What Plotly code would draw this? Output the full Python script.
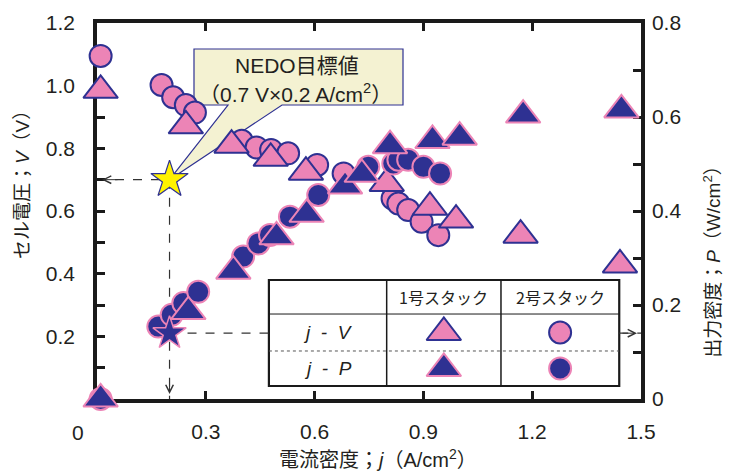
import plotly.graph_objects as go

# ---------------- data ----------------
# Stack No.2 (circles)
j2_v = [0.01, 0.178, 0.21, 0.245, 0.27, 0.399, 0.44, 0.48, 0.527, 0.607, 0.68, 0.815, 0.831, 0.858, 0.895, 0.941]
v2 = [1.095, 1.002, 0.963, 0.938, 0.914, 0.824, 0.803, 0.795, 0.784, 0.747, 0.72, 0.64, 0.624, 0.603, 0.566, 0.523]
j2_p = [0.01, 0.169, 0.206, 0.238, 0.279, 0.403, 0.445, 0.477, 0.532, 0.61, 0.748, 0.817, 0.831, 0.858, 0.9, 0.946]
p2 = [0.0, 0.154, 0.179, 0.204, 0.228, 0.303, 0.331, 0.349, 0.388, 0.434, 0.494, 0.501, 0.509, 0.509, 0.494, 0.48]

# Stack No.1 (triangles)
j1_v = [0.01, 0.245, 0.371, 0.479, 0.576, 0.799, 0.918, 0.99, 1.168, 1.442]
v1 = [0.985, 0.872, 0.81, 0.768, 0.724, 0.688, 0.612, 0.571, 0.523, 0.428]
j1_p = [0.01, 0.252, 0.376, 0.495, 0.578, 0.684, 0.73, 0.808, 0.925, 1.0, 1.175, 1.446]
p1 = [0.0, 0.186, 0.272, 0.345, 0.393, 0.453, 0.478, 0.539, 0.55, 0.557, 0.604, 0.615]

# NEDO target
NEDO_J = 0.2
NEDO_V = 0.7
NEDO_P = 0.14

# axes
X_RANGE = [0, 1.5]
Y_RANGE = [0, 1.2]
Y2_RANGE = [0, 0.8]
x_tickvals = [0, 0.3, 0.6, 0.9, 1.2, 1.5]
x_ticktext = ["", "0.3", "0.6", "0.9", "1.2", "1.5"]
y_tickvals = [i / 10 for i in range(13)]
y_ticktext = ["", "", "0.2", "", "0.4", "", "0.6", "", "0.8", "", "1.0", "", "1.2"]
y2_tickvals = [i / 10 for i in range(9)]
y2_ticktext = ["0", "", "0.2", "", "0.4", "", "0.6", "", "0.8"]

x_title = "電流密度；<i>j</i>（A/cm<sup>2</sup>）"
y_title = "セル電圧；<i>V</i>（V）"
y2_title = "出力密度；<i>P</i>（W/cm<sup>2</sup>）"
callout_l1 = "NEDO目標値"
callout_l2 = "（0.7 V×0.2 A/cm<sup>2</sup>）"
table_cols = ["1号スタック", "2号スタック"]
table_rows = ["<i>j&nbsp;&nbsp;-&nbsp;&nbsp;V</i>", "<i>j&nbsp;&nbsp;-&nbsp;&nbsp;P</i>"]

# ---------------- style ----------------
PINK = "#EC84B6"
NAVY = "#2E3192"
TXT = "#231F20"
AX = "#1a1a1a"
FONT = "Liberation Sans, Arial, Noto Sans CJK JP"
JFONT = "Noto Sans CJK JP, Liberation Sans"

pink_circle = dict(symbol="circle", size=22, color=PINK, opacity=1, line=dict(color=NAVY, width=2))
navy_circle = dict(symbol="circle", size=22, color=NAVY, opacity=1, line=dict(color=PINK, width=2))
pink_tri = dict(symbol="triangle-up", size=30, color=PINK, opacity=1, line=dict(color=NAVY, width=2))
navy_tri = dict(symbol="triangle-up", size=30, color=NAVY, opacity=1, line=dict(color=PINK, width=2))

fig = go.Figure()
fig.add_trace(go.Scatter(x=j2_v, y=v2, mode="markers", marker=pink_circle, yaxis="y", cliponaxis=False))
fig.add_trace(go.Scatter(x=j1_v, y=v1, mode="markers", marker=pink_tri, yaxis="y", cliponaxis=False))
fig.add_trace(go.Scatter(x=j2_p, y=p2, mode="markers", marker=navy_circle, yaxis="y2", cliponaxis=False))
fig.add_trace(go.Scatter(x=j1_p, y=p1, mode="markers", marker=navy_tri, yaxis="y2", cliponaxis=False))
# NEDO stars
fig.add_trace(go.Scatter(x=[NEDO_J], y=[NEDO_V], mode="markers", yaxis="y",
                         marker=dict(symbol="star", size=28, color="#FFF200", line=dict(color=NAVY, width=1.2))))
fig.add_trace(go.Scatter(x=[NEDO_J], y=[NEDO_P], mode="markers", yaxis="y2",
                         marker=dict(symbol="star", size=25, color=NAVY, line=dict(color=PINK, width=1.5))))

# ---------------- legend table (plot-fraction coordinates) ----------------
T_L, T_R, T_T, T_B = 0.316, 0.960, 0.3165, 0.0346
C1, C2 = 0.5325, 0.7426
R1, R2 = 0.226, 0.1277
col_c = [(T_L + C1) / 2, (C1 + C2) / 2, (C2 + T_R) / 2]
row_c = [(T_T + R1) / 2, (R1 + R2) / 2, (R2 + T_B) / 2]

fig.add_trace(go.Scatter(x=[col_c[1], col_c[2], col_c[1], col_c[2]],
                         y=[row_c[1], row_c[1], row_c[2], row_c[2]],
                         mode="markers", xaxis="x3", yaxis="y3",
                         marker=dict(symbol=["triangle-up", "circle", "triangle-up", "circle"],
                                     size=[30, 22, 30, 22], opacity=1,
                                     color=[PINK, PINK, NAVY, NAVY],
                                     line=dict(color=[NAVY, NAVY, PINK, PINK], width=2))))

xspan = X_RANGE[1] - X_RANGE[0]
shapes = []
dash = dict(color="#333333", width=1.2, dash="dash")
shapes.append(dict(type="line", xref="x", yref="y", x0=X_RANGE[0], x1=NEDO_J, y0=NEDO_V, y1=NEDO_V, line=dash, layer="below"))
shapes.append(dict(type="line", xref="x", yref="y", x0=NEDO_J, x1=NEDO_J, y0=NEDO_V, y1=Y_RANGE[0], line=dash, layer="below"))
# P guide line, interrupted by the table
shapes.append(dict(type="line", xref="x", yref="y2", x0=NEDO_J, x1=X_RANGE[0] + T_L * xspan,
                   y0=NEDO_P, y1=NEDO_P, line=dash, layer="below"))
shapes.append(dict(type="line", xref="x", yref="y2", x0=X_RANGE[0] + T_R * xspan, x1=X_RANGE[1],
                   y0=NEDO_P, y1=NEDO_P, line=dash, layer="below"))
# table
shapes.append(dict(type="rect", xref="paper", yref="paper", x0=T_L, x1=T_R, y0=T_B, y1=T_T,
                   fillcolor="white", line=dict(color=AX, width=2.2), layer="below"))
for cx in (C1, C2):
    shapes.append(dict(type="line", xref="paper", yref="paper", x0=cx, x1=cx, y0=T_B, y1=T_T,
                       line=dict(color=AX, width=1.5), layer="below"))
shapes.append(dict(type="line", xref="paper", yref="paper", x0=T_L, x1=T_R, y0=R1, y1=R1,
                   line=dict(color=AX, width=1), layer="below"))
shapes.append(dict(type="line", xref="paper", yref="paper", x0=T_L, x1=T_R, y0=R2, y1=R2,
                   line=dict(color="#555555", width=1, dash="dot"), layer="below"))
# callout
B_L, B_R, B_T, B_B = 0.1783, 0.5625, 0.9309, 0.7819
P_1, P_2 = 0.2408, 0.3401
ax_x = (NEDO_J - X_RANGE[0]) / xspan
ax_y = (NEDO_V - Y_RANGE[0]) / (Y_RANGE[1] - Y_RANGE[0])
path = (f"M{B_L},{B_T} L{B_R},{B_T} L{B_R},{B_B} L{P_2},{B_B} L{ax_x},{ax_y} "
        f"L{P_1},{B_B} L{B_L},{B_B} Z")
shapes.append(dict(type="path", xref="paper", yref="paper", path=path,
                   fillcolor="#F4F2D2", line=dict(color=NAVY, width=1.2), layer="below"))

annotations = []
arrow = dict(text="", showarrow=True, arrowhead=5, arrowsize=1.5, arrowwidth=1, arrowcolor="#333333")
annotations.append(dict(x=X_RANGE[0], y=NEDO_V, xref="x", yref="y", ax=22, ay=0, standoff=5, **arrow))
annotations.append(dict(x=NEDO_J, y=Y_RANGE[0], xref="x", yref="y", ax=0, ay=-22, standoff=5, **arrow))
annotations.append(dict(x=X_RANGE[1], y=NEDO_P, xref="x", yref="y2", ax=-20, ay=0, standoff=4, **arrow))


def label(x, y, text, size, family=FONT, angle=0):
    return dict(x=x, y=y, xref="paper", yref="paper", text=text, showarrow=False,
                xanchor="center", yanchor="middle", textangle=angle,
                font=dict(family=family, size=size, color=TXT))


annotations.append(label(0.3676, 0.888, callout_l1, 21))
annotations.append(label(0.3640, 0.815, callout_l2, 21))

for k, t in enumerate(table_cols):
    annotations.append(label(col_c[k + 1], row_c[0], t, 16, family=JFONT))
for k, t in enumerate(table_rows):
    annotations.append(label(col_c[0], row_c[k + 1], t, 19))

# corner zero
annotations.append(label(-0.035, -0.088, "0", 21))
# axis titles
annotations.append(label(0.5165, -0.157, x_title, 20))
annotations.append(label(-0.138, 0.582, y_title, 19, angle=-90))
annotations.append(label(1.1305, 0.378, y2_title, 19, angle=-90))

axis_common = dict(showgrid=False, zeroline=False, showline=True, linecolor=AX, linewidth=3.5,
                   ticks="inside", ticklen=8, tickwidth=3, tickcolor=AX, layer="below traces",
                   tickfont=dict(family=FONT, size=21, color=TXT), tickmode="array")

fig.update_layout(
    width=736, height=472,
    margin=dict(l=97, r=95, t=23, b=73),
    plot_bgcolor="white", paper_bgcolor="white",
    showlegend=False,
    font=dict(family=FONT, size=21, color=TXT),
    xaxis=dict(range=X_RANGE, tickvals=x_tickvals, ticktext=x_ticktext, mirror="ticks",
               ticklabelstandoff=11, **axis_common),
    yaxis=dict(range=Y_RANGE, tickvals=y_tickvals, ticktext=y_ticktext, ticklabelstandoff=14, **axis_common),
    yaxis2=dict(range=Y2_RANGE, tickvals=y2_tickvals, ticktext=y2_ticktext, overlaying="y", side="right",
                ticklabelstandoff=3, **axis_common),
    xaxis3=dict(range=[0, 1], overlaying="x", visible=False, fixedrange=True),
    yaxis3=dict(range=[0, 1], overlaying="y", visible=False, fixedrange=True),
    shapes=shapes,
    annotations=annotations,
)

fig.write_html("out.html", config={"displayModeBar": False},
               post_script="document.body.style.margin='0';document.body.style.overflow='hidden';")
